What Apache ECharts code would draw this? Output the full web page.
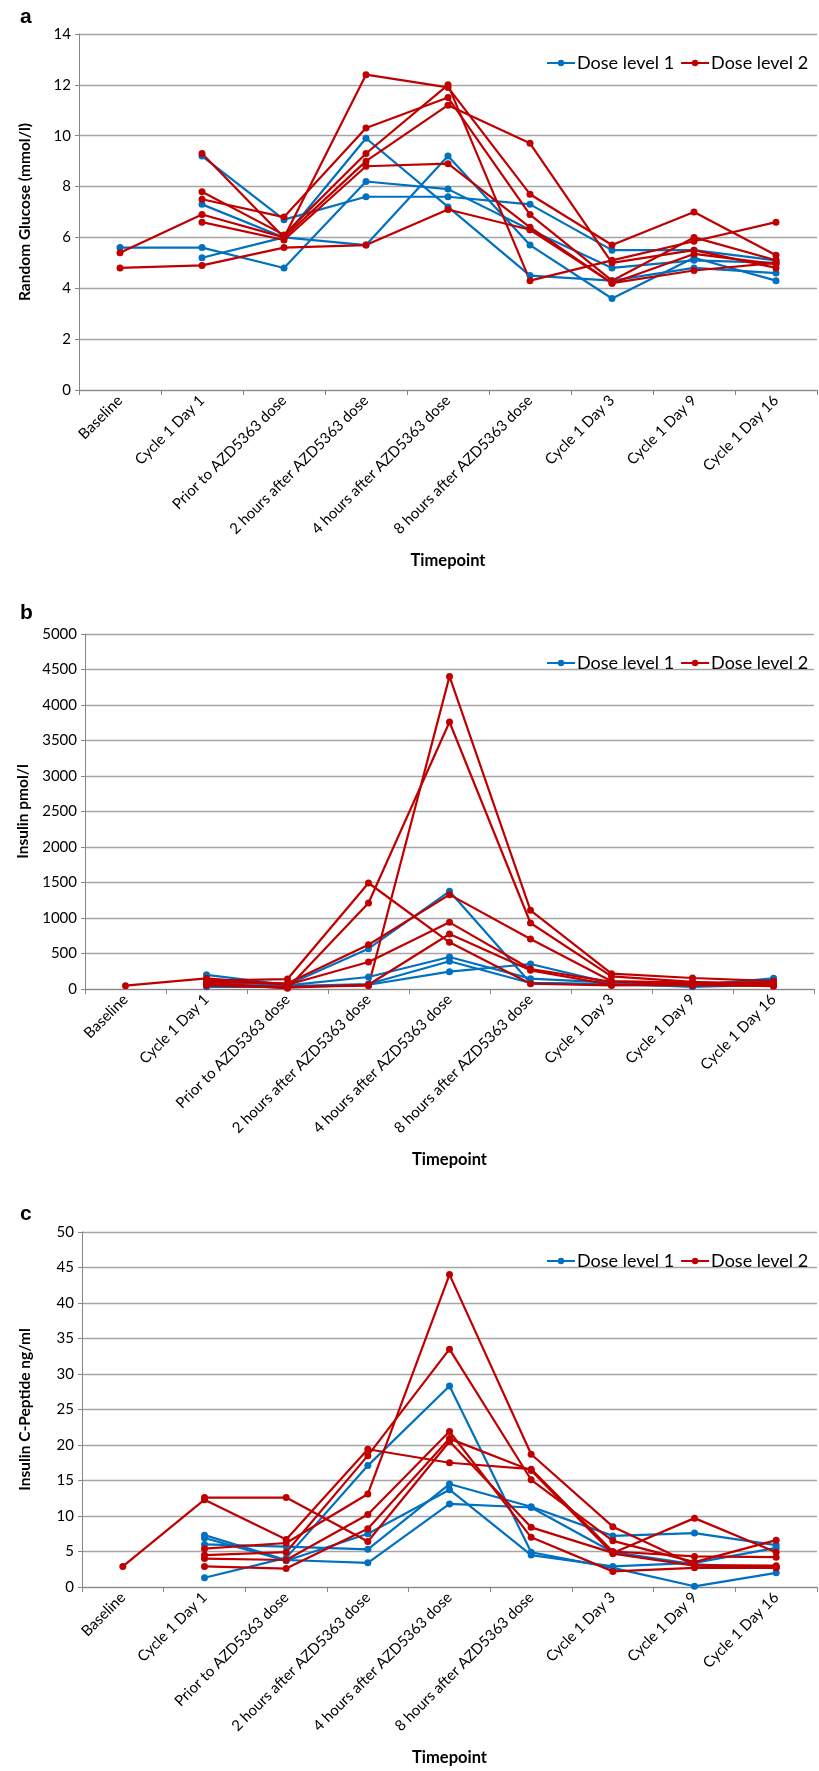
<!DOCTYPE html>
<html><head><meta charset="utf-8">
<script src="https://cdn.jsdelivr.net/npm/echarts@6/dist/echarts.min.js"></script>
<style>html,body{margin:0;padding:0;background:#fff}#c{width:819px;height:1771px}</style>
</head><body><div id="c"></div>
<script>
// Categories (timepoints)
const categories = ['Baseline','Cycle 1 Day 1','Prior to AZD5363 dose','2 hours after AZD5363 dose','4 hours after AZD5363 dose','8 hours after AZD5363 dose','Cycle 1 Day 3','Cycle 1 Day 9','Cycle 1 Day 16'];

// Panel a: Random glucose (mmol/l), one row per patient
const glucoseDose1 = [
  [5.6, 5.6, 4.8, 8.2, 7.9, 6.3, 4.8, 5.1, 5.0],
  [null, 5.2, 6.0, 5.7, 9.2, 5.7, 3.6, 5.2, 4.3],
  [null, 9.2, 6.7, 7.6, 7.6, 7.3, 5.5, 5.5, 5.1],
  [null, 7.3, 6.0, 9.9, 7.2, 4.5, 4.3, 4.8, 4.6]
];
const glucoseDose2 = [
  [5.4, 6.9, 6.0, 9.0, 11.2, 9.7, 5.0, 5.5, 4.8],
  [4.8, 4.9, 5.6, 5.7, 7.1, 6.3, 4.2, 4.7, 5.0],
  [null, 9.3, 6.0, 12.4, 11.9, 7.7, 5.7, 7.0, 5.3],
  [null, 7.8, 6.1, 9.3, 12.0, 4.3, 5.1, 5.85, 6.6],
  [null, 7.5, 6.8, 10.3, 11.5, 6.9, 4.3, 6.0, 5.1],
  [null, 6.6, 5.9, 8.8, 8.9, 6.4, 4.2, 5.35, 4.95]
];

// Panel b: Insulin pmol/l
const insulinDose1 = [
  [null, 200, 60, 568, 1376, 85, 70, 50, 150],
  [null, 110, 50, 169, 451, 146, 90, 60, 131],
  [null, 60, 40, 70, 390, 85, 60, 40, 100],
  [null, 30, 30, 60, 244, 352, 80, 30, 60]
];
const insulinDose2 = [
  [47, 150, 60, 380, 939, 282, 100, 70, 80],
  [null, 120, 140, 1493, 657, 75, 50, 60, 40],
  [null, 90, 10, 1211, 3761, 930, 178, 100, 60],
  [null, 60, 30, 47, 4403, 1108, 216, 155, 110],
  [null, 100, 80, 624, 1329, 704, 110, 90, 90],
  [null, 50, 20, 60, 775, 263, 60, 50, 50]
];

// Panel c: Insulin C-Peptide ng/ml
const cpeptideDose1 = [
  [null, 1.3, 4.1, 17.1, 28.3, 4.9, 2.7, 0.1, 2.0],
  [null, 6.0, 5.7, 5.3, 14.5, 11.3, 7.2, 7.6, 5.9],
  [null, 6.9, 3.7, 7.5, 13.7, 4.5, 2.9, 3.4, 5.5],
  [null, 7.3, 3.8, 3.4, 11.7, 11.2, 4.9, 3.2, 2.7]
];
const cpeptideDose2 = [
  [2.9, 12.3, 6.7, 19.4, 17.5, 16.6, 5.0, 4.3, 4.2],
  [null, 12.6, 12.6, 6.4, 20.5, 8.4, 4.8, 9.7, 4.9],
  [null, 5.4, 6.2, 13.1, 44.0, 18.7, 8.5, 3.1, 3.0],
  [null, 4.5, 4.9, 18.5, 33.5, 15.1, 6.5, 3.5, 6.6],
  [null, 4.0, 3.8, 10.2, 21.9, 7.0, 2.2, 2.7, 2.7],
  [null, 2.9, 2.6, 8.2, 20.9, 16.4, 4.7, 3.0, 2.8]
];

// Axis settings
const yMax = [14, 5000, 50];
const yInterval = [2, 500, 5];
const yTitles = ['Random Glucose (mmol/l)', 'Insulin pmol/l', 'Insulin C-Peptide ng/ml'];
const panelLetters = ['a', 'b', 'c'];
const seriesNames = ['Dose level 1', 'Dose level 2'];

const BLUE = '#0070C0', RED = '#C00000';
const FONT = 'Lato';
const panels = [
  {d1: glucoseDose1, d2: glucoseDose2, grid: {left: 79, top: 34, width: 738, height: 356}, yGap: 46, letterY: 18},
  {d1: insulinDose1, d2: insulinDose2, grid: {left: 85, top: 634, width: 729, height: 355}, yGap: 52, letterY: 614},
  {d1: cpeptideDose1, d2: cpeptideDose2, grid: {left: 82, top: 1232, width: 735, height: 355}, yGap: 49, letterY: 1215}
];

const grids = [], xAxes = [], yAxes = [], series = [], legends = [], graphics = [];
panels.forEach((p, i) => {
  grids.push(p.grid);
  xAxes.push({
    type: 'category', gridIndex: i, data: categories, boundaryGap: true,
    name: 'Timepoint', nameLocation: 'middle', nameGap: 162,
    nameTextStyle: {fontFamily: FONT, fontWeight: 'bold', fontSize: 16.5, color: '#000'},
    axisLine: {lineStyle: {color: '#868686', width: 1}},
    axisTick: {show: true, alignWithLabel: false, length: 5, lineStyle: {color: '#868686'}},
    axisLabel: {rotate: 45, fontFamily: FONT, fontSize: 15, color: '#000', margin: 8, interval: 0},
    splitLine: {show: false}
  });
  yAxes.push({
    type: 'value', gridIndex: i, min: 0, max: yMax[i], interval: yInterval[i],
    name: yTitles[i], nameLocation: 'middle', nameRotate: 90, nameGap: p.yGap,
    nameTextStyle: {fontFamily: FONT, fontWeight: 'bold', fontSize: 15.5, color: '#000'},
    axisLine: {show: true, lineStyle: {color: '#868686', width: 1}},
    axisTick: {show: true, length: 4, lineStyle: {color: '#868686'}},
    axisLabel: {fontFamily: FONT, fontSize: 15, color: '#000', margin: 8, formatter: v => String(v)},
    splitLine: {show: true, lineStyle: {color: '#a6a6a6', width: 1.3}}
  });
  const mk = (arr, name, color) => arr.forEach(row => series.push({
    type: 'line', name: name, xAxisIndex: i, yAxisIndex: i, data: row,
    symbol: 'circle', symbolSize: 7, showSymbol: true, connectNulls: false,
    lineStyle: {color: color, width: 2.2}, itemStyle: {color: color}, emphasis: {disabled: true}
  }));
  mk(p.d1, seriesNames[0], BLUE);
  mk(p.d2, seriesNames[1], RED);
  legends.push({
    data: seriesNames, left: 541, top: p.grid.top + 15, itemWidth: 28, itemHeight: 8, itemGap: 6,
    textStyle: {fontFamily: FONT, fontSize: 18, color: '#000', padding: [0, 0, 0, -3]},
    selectedMode: false
  });
  graphics.push({type: 'text', left: 20, top: p.letterY - 11,
    style: {text: panelLetters[i], font: 'bold 21px "Liberation Sans", Arial', fill: '#000'}});
});

const chart = echarts.init(document.getElementById('c'), null, {renderer: 'canvas'});
chart.setOption({
  animation: false,
  backgroundColor: '#fff',
  grid: grids, xAxis: xAxes, yAxis: yAxes, series: series, legend: legends, graphic: graphics
});
</script></body></html>
